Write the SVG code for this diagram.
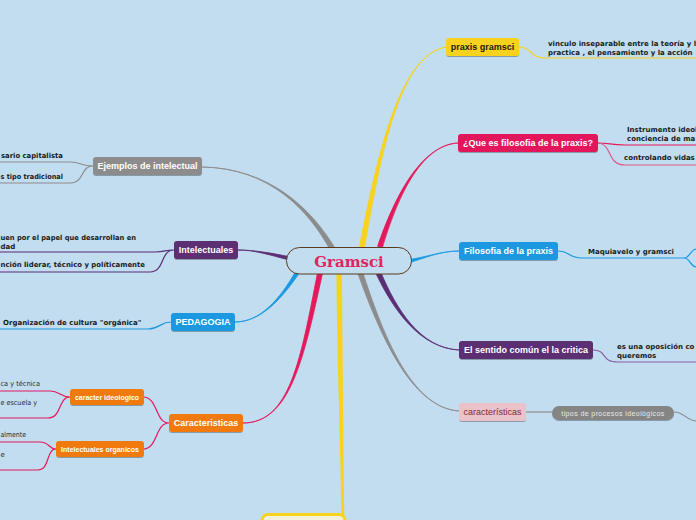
<svg xmlns="http://www.w3.org/2000/svg" width="696" height="520" viewBox="0 0 696 520">
<defs>
<filter id="sh" x="-10%" y="-30%" width="120%" height="170%">
<feDropShadow dx="0" dy="1" stdDeviation="0.7" flood-color="#000" flood-opacity="0.3"/>
</filter>
<style>
.lbl{font-family:"Liberation Sans",Arial,sans-serif;font-weight:bold;font-size:9px;fill:#fff;text-anchor:middle}
.sm{font-family:"Liberation Sans",Arial,sans-serif;font-weight:bold;font-size:7px;fill:#fff;text-anchor:middle}
.ch{font-family:"DejaVu Sans",Verdana,sans-serif;font-weight:bold;font-size:7px;fill:#1a1a1a}
.chr{font-family:"DejaVu Sans",Verdana,sans-serif;font-size:7px;fill:#2a2a2a}
.thin{fill:none;stroke-width:1.2}
</style>
</defs>
<rect width="696" height="520" fill="#c2ddf0"/>

<g id="connectors">
<path d="M364.5,247.5 C381.5,150.3 400,55 446,47 C400,55 378.5,149.7 359.5,246.5 Z" fill="#f8d21d" stroke="#f8d21d" stroke-width="0.8"/>
<path d="M336.5,272 C336.5,350 341,450 341.3,515 L344.3,515 C343.5,450 342.5,350 342,272 Z" fill="#f8d21d"/>
<path d="M382.4,247.75 C396.4,200.45 420,145 458,143 C420,145 393.6,199.55 377.6,246.25 Z" fill="#e3195c" stroke="#e3195c" stroke-width="0.8"/>
<path d="M405.4,264 C425,258 440,251 459,251 C440,251 425,258 404.6,260 Z" fill="#1a98e0" stroke="#1a98e0" stroke-width="0.8"/>
<path d="M380.3,271 C396.4,309.4 420,348 459,350 C420,348 393.6,310.6 375.7,273 Z" fill="#5b2d72" stroke="#5b2d72" stroke-width="0.8"/>
<path d="M362.4,271.2 C381.4,329.5 410,408 459,411 C410,408 378.6,330.5 357.6,272.8 Z" fill="#8c8c8c" stroke="#8c8c8c" stroke-width="0.8"/>
<path d="M334.2,246.75 C311.3,209.25 270,168 202,167 C270,168 308.7,210.75 329.8,249.25 Z" fill="#8c8c8c" stroke="#8c8c8c" stroke-width="0.8"/>
<path d="M292.4,261 C270,255 255,250 238,250 C255,250 270,253 291.6,257 Z" fill="#5b2d72" stroke="#5b2d72" stroke-width="0.8"/>
<path d="M298.7,274 C280,301 260,322 235,322 C260,322 280,299 295.3,272 Z" fill="#1a98e0" stroke="#1a98e0" stroke-width="0.8"/>
<path d="M322.45,273.5 C303.5,360.3 290,423 243,423 C290,423 300.5,359.7 317.55,272.5 Z" fill="#e3195c" stroke="#e3195c" stroke-width="0.8"/>

<path class="thin" stroke="#f8d21d" d="M519,47 C532,47 530,58 545,58 L696,58"/>
<path class="thin" stroke="#e3195c" d="M597,143 C610,143 610,145 625,145 L696,145"/>
<path class="thin" stroke="#e05a8c" d="M597,143 C613,143 606,165 625,165 L696,165"/>
<path class="thin" stroke="#1a98e0" d="M558,251 C570,251 568,258 582,258 L684,258 C690,258 690,250 696,249 M684,258 C690,258 690,266 696,267"/>
<path class="thin" stroke="#8b5ea6" d="M593,350 C608,350 600,362 618,362 L696,362"/>
<path class="thin" stroke="#8c8c8c" d="M526,412 L552,412"/>
<path class="thin" stroke="#8c8c8c" d="M674,412 C684,412 686,420 696,421"/>

<path class="thin" stroke="#8c8c8c" d="M93,166 C80,166 82,162 70,162 L0,162 M93,166 C80,166 85,183 70,183 L0,183"/>
<path class="thin" stroke="#5b2d72" d="M174,250 C165,250 165,252 155,252 L0,252 M174,250 C160,250 165,272 150,272 L0,272"/>
<path class="thin" stroke="#1a98e0" d="M171,322 C160,322 160,329 148,329 L0,329"/>
<path class="thin" stroke="#e3195c" d="M169,423 C155,423 158,397 143,397 M169,423 C155,423 158,449 143,449"/>
<path class="thin" stroke="#e3195c" d="M70,397 C60,397 60,391 50,391 L0,391 M70,397 C58,397 62,418 48,418 L0,418"/>
<path class="thin" stroke="#e3195c" d="M56,449 C48,449 50,442 40,442 L0,442 M56,449 C46,449 50,470 38,470 L0,470"/>
</g>

<g id="gramsci">
<rect x="286.5" y="247.5" width="125" height="26.5" rx="13" fill="#c2ddf0" stroke="#5a3a1a" stroke-width="1"/>
<text x="349" y="266.5" text-anchor="middle" font-family="'DejaVu Serif',Georgia,serif" font-weight="bold" font-size="15" fill="#e0245e">Gramsci</text>
</g>

<g id="bottom-node">
<rect x="262" y="514.5" width="83" height="20" rx="6" fill="#f3f0dc" stroke="#f8d21d" stroke-width="3"/>
</g>

<g id="praxis-gramsci">
<rect x="446" y="38" width="73" height="18" rx="3" fill="#f8d21d" filter="url(#sh)"/>
<text class="lbl" x="482.5" y="50.3" style="fill:#1a1a1a">praxis gramsci</text>
</g>
<g id="vinculo">
<text class="ch" x="548" y="46">vinculo inseparable entre la teoría y l</text>
<text class="ch" x="548" y="55">practica , el pensamiento y la acción</text>
</g>

<g id="que-es">
<rect x="458" y="134" width="140" height="18" rx="3" fill="#e3195c" filter="url(#sh)"/>
<text class="lbl" x="528" y="146.3">¿Que es filosofia de la praxis?</text>
</g>
<g id="instrumento">
<text class="ch" x="627" y="132">Instrumento ideol</text>
<text class="ch" x="627" y="141">conciencia de ma</text>
</g>
<g id="controlando">
<text class="ch" x="624" y="159.5">controlando vidas</text>
</g>

<g id="filosofia">
<rect x="459" y="242" width="99" height="18" rx="3" fill="#1a98e0" filter="url(#sh)"/>
<text class="lbl" x="508.5" y="254.3">Filosofia de la praxis</text>
</g>
<g id="maquiavelo">
<text class="ch" x="588" y="254">Maquiavelo y gramsci</text>
</g>

<g id="sentido">
<rect x="459" y="341" width="134" height="18" rx="3" fill="#5b2d72" filter="url(#sh)"/>
<text class="lbl" x="526" y="353.3">El sentido común el la critica</text>
</g>
<g id="oposicion">
<text class="ch" x="617" y="349">es una oposición co</text>
<text class="ch" x="617" y="357.5">queremos</text>
</g>

<g id="caracteristicas-r">
<rect x="459" y="403" width="67" height="18" rx="3" fill="#e9c3c9" filter="url(#sh)"/>
<text x="492.5" y="415.3" text-anchor="middle" font-family="'Liberation Sans',Arial,sans-serif" font-size="9" fill="#8b2340">características</text>
</g>
<g id="tipos">
<rect x="552" y="406" width="122" height="14" rx="7" fill="#858585" filter="url(#sh)"/>
<text x="613" y="415.5" text-anchor="middle" font-family="'Liberation Sans',Arial,sans-serif" font-size="7" letter-spacing="0.4" fill="#e8e8e8">tipos de procesos ideológicos</text>
</g>

<g id="ejemplos">
<rect x="93" y="157" width="109" height="18" rx="3" fill="#8c8c8c" filter="url(#sh)"/>
<text class="lbl" x="147.5" y="169.3">Ejemplos de intelectual</text>
</g>
<g id="capitalista">
<text class="ch" x="1" y="157.7" textLength="62" lengthAdjust="spacingAndGlyphs">sario capitalista</text>
</g>
<g id="tradicional">
<text class="ch" x="0.5" y="178.5" textLength="62.5" lengthAdjust="spacingAndGlyphs">s tipo tradicional</text>
</g>

<g id="intelectuales">
<rect x="174" y="241" width="64" height="18" rx="3" fill="#5b2d72" filter="url(#sh)"/>
<text class="lbl" x="206" y="253.3">Intelectuales</text>
</g>
<g id="papel">
<text class="ch" x="0.5" y="239.5" textLength="135.5" lengthAdjust="spacingAndGlyphs">uen por el papel que desarrollan en</text>
<text class="ch" x="0.5" y="248.5">dad</text>
</g>
<g id="funcion">
<text class="ch" x="0.5" y="266.7" textLength="144.5" lengthAdjust="spacingAndGlyphs">nción liderar, técnico y políticamente</text>
</g>

<g id="pedagogia">
<rect x="171" y="313" width="64" height="18" rx="3" fill="#1a98e0" filter="url(#sh)"/>
<text class="lbl" x="203" y="325.3">PEDAGOGIA</text>
</g>
<g id="organizacion">
<text class="ch" x="3" y="325.3">Organización de cultura "orgánica"</text>
</g>

<g id="caracteristicas-l">
<rect x="169" y="414" width="74" height="18" rx="3" fill="#f07a10" filter="url(#sh)"/>
<text class="lbl" x="206" y="426.3">Caracteristicas</text>
</g>
<g id="caracter-ideologico">
<rect x="70" y="389" width="74" height="16" rx="3" fill="#f07a10" filter="url(#sh)"/>
<text class="sm" x="107" y="399.5">caracter ideologico</text>
</g>
<g id="intelectuales-organicos">
<rect x="56" y="441" width="88" height="16" rx="3" fill="#f07a10" filter="url(#sh)"/>
<text class="sm" x="100" y="451.5">Intelectuales organicos</text>
</g>
<g id="tecnica"><text class="chr" x="0.5" y="385.6" textLength="39.5" lengthAdjust="spacingAndGlyphs">ca y técnica</text></g>
<g id="escuela"><text class="chr" x="0.5" y="404.7" textLength="36.5" lengthAdjust="spacingAndGlyphs">e escuela y</text></g>
<g id="almente"><text class="chr" x="0.5" y="436.7" textLength="25.5" lengthAdjust="spacingAndGlyphs">almente</text></g>
<g id="e-text"><text class="chr" x="0.5" y="457">e</text></g>
</svg>
